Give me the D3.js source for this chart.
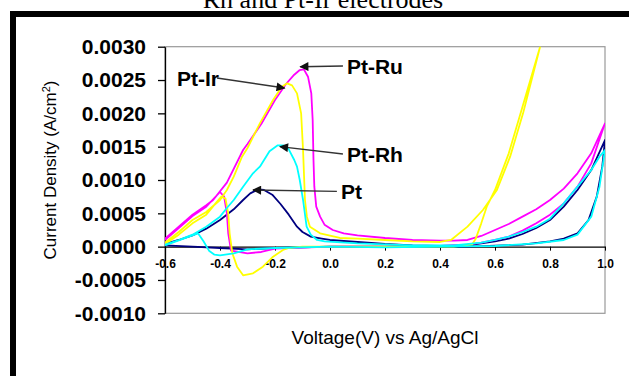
<!DOCTYPE html>
<html>
<head>
<meta charset="utf-8">
<script src="https://cdn.jsdelivr.net/npm/d3@7"></script>
<style>
  html, body { margin: 0; padding: 0; background: #fff; }
  svg { display: block; }
</style>
</head>
<body>
<svg id="chart" width="629" height="376"></svg>
<script>
// cyclic voltammograms, each loop = forward scan then reverse scan
const ptVoltage = [-0.6, -0.55, -0.5, -0.45, -0.4, -0.35, -0.316, -0.29, -0.26, -0.24, -0.21, -0.18, -0.15, -0.12, -0.1, -0.07, -0.03, 0.0, 0.1, 0.2, 0.3, 0.4, 0.5, 0.55, 0.6, 0.65, 0.7, 0.75, 0.8, 0.85, 0.9, 0.95, 1.0,
  0.99, 0.97, 0.94, 0.9, 0.85, 0.8, 0.7, 0.5, 0.2, 0.0, -0.2, -0.3, -0.4, -0.5, -0.6];
const ptCurrent = [0.00004, 0.0001, 0.00017, 0.00027, 0.0004, 0.00056, 0.0007, 0.0008, 0.00086, 0.00085, 0.00078, 0.00064, 0.00048, 0.0003, 0.00022, 0.00015, 0.00012, 0.0001, 0.00007, 0.00004, 0.00002, 0.00001, 0.00002, 0.00005, 0.00008, 0.00012, 0.00019, 0.00028, 0.0004, 0.0006, 0.00085, 0.00115, 0.0016,
  0.0012, 0.00075, 0.0004, 0.0002, 0.00012, 0.00008, 0.00003, 0.0, 0.0, 0.0, -0.00002, -0.00004, -0.00002, 0.0, 0.00002];

const ptRuVoltage = [-0.6, -0.55, -0.5, -0.45, -0.425, -0.375, -0.316, -0.3, -0.25, -0.2, -0.16, -0.13, -0.11, -0.095, -0.08, -0.068, -0.063, -0.06, -0.057, -0.05, -0.036, -0.02, 0.01, 0.05, 0.1, 0.2, 0.3, 0.4, 0.45, 0.5, 0.55, 0.6, 0.65, 0.7, 0.75, 0.8, 0.85, 0.9, 0.95, 1.0,
  0.95, 0.9, 0.85, 0.8, 0.75, 0.7, 0.65, 0.6, 0.55, 0.5, 0.4, 0.2, 0.0, -0.2, -0.25, -0.3, -0.36, -0.37, -0.375, -0.385, -0.4, -0.45, -0.5, -0.55, -0.6];
const ptRuCurrent = [0.00012, 0.0003, 0.00048, 0.00062, 0.0007, 0.00096, 0.00145, 0.00154, 0.00184, 0.0022, 0.00244, 0.00258, 0.00265, 0.00266, 0.00255, 0.0023, 0.0019, 0.0013, 0.0009, 0.0006, 0.00045, 0.00033, 0.00025, 0.0002, 0.00017, 0.00013, 0.0001, 0.00009, 0.00009, 0.0001, 0.00016, 0.00025, 0.00034, 0.00045, 0.00056, 0.0007, 0.00087, 0.0011, 0.0014, 0.00185,
  0.00125, 0.0009, 0.00065, 0.00048, 0.00035, 0.00024, 0.00015, 0.0001, 0.00006, 0.00003, 0.00001, 0.0, 0.0, -0.00003, -0.00008, -0.0001, -0.00006, 0.0002, 0.0005, 0.00075, 0.00082, 0.0006, 0.00046, 0.00028, 0.0001];

const ptIrVoltage = [-0.6, -0.55, -0.5, -0.45, -0.4, -0.375, -0.35, -0.32, -0.3, -0.255, -0.207, -0.175, -0.156, -0.138, -0.12, -0.105, -0.098, -0.091, -0.084, -0.073, -0.036, 0.036, 0.1, 0.2, 0.3, 0.4, 0.44, 0.5, 0.556, 0.607, 0.655, 0.702, 0.764, 0.8,
  0.764, 0.7, 0.65, 0.6, 0.57, 0.55, 0.53, 0.516, 0.45, 0.3, 0.1, -0.1, -0.15, -0.171, -0.207, -0.244, -0.28, -0.316, -0.338, -0.355, -0.365, -0.37, -0.38, -0.395, -0.41, -0.45, -0.5, -0.55, -0.6];
const ptIrCurrent = [0.00006, 0.00022, 0.0004, 0.00052, 0.0007, 0.00085, 0.00105, 0.00135, 0.00148, 0.00185, 0.0022, 0.0024, 0.00245, 0.00242, 0.0023, 0.002, 0.00145, 0.0007, 0.00045, 0.0003, 0.0002, 0.00013, 0.00012, 0.0001, 0.00008, 0.00007, 0.0001, 0.0003, 0.00055, 0.00085, 0.00135, 0.002, 0.003, 0.0036,
  0.003, 0.0021, 0.0014, 0.00085, 0.0006, 0.00035, 0.00012, 0.00003, 0.0, 0.0, 0.0, 0.0, -0.00002, -0.00005, -0.00015, -0.0003, -0.0004, -0.00043, -0.0003, -0.0001, 0.0002, 0.0005, 0.00072, 0.00075, 0.00068, 0.00048, 0.00035, 0.00018, 0.00004];

const ptRhVoltage = [-0.6, -0.55, -0.5, -0.45, -0.4, -0.375, -0.35, -0.316, -0.28, -0.255, -0.22, -0.19, -0.17, -0.15, -0.13, -0.12, -0.11, -0.098, -0.085, -0.07, -0.047, -0.02, 0.1, 0.3, 0.45, 0.55, 0.6, 0.65, 0.7, 0.75, 0.8, 0.85, 0.9, 0.95, 0.98, 1.0,
  0.98, 0.95, 0.9, 0.85, 0.75, 0.6, 0.4, 0.2, 0.0, -0.2, -0.3, -0.35, -0.4, -0.42, -0.44, -0.46, -0.48, -0.52, -0.56, -0.6];
const ptRhCurrent = [0.00003, 0.0001, 0.00018, 0.0003, 0.00045, 0.00058, 0.0007, 0.0009, 0.0011, 0.0012, 0.00143, 0.00152, 0.00152, 0.00146, 0.0013, 0.0012, 0.001, 0.0007, 0.0003, 0.00018, 0.0001, 0.00008, 0.00005, 0.00002, 0.00002, 0.00006, 0.0001, 0.00015, 0.00022, 0.0003, 0.00042, 0.00065, 0.0009, 0.00115, 0.00135, 0.00145,
  0.0009, 0.00045, 0.00018, 0.0001, 0.00005, 0.00001, 0.0, -0.00001, 0.0, -0.00002, -0.00004, -0.0001, -0.00013, -0.00012, -0.00006, 0.00008, 0.0002, 0.00014, 0.00008, 0.00002];

const seriesNames = ["Pt", "Pt-Ru", "Pt-Ir", "Pt-Rh"];
const seriesColors = ["#000080", "#ff00ff", "#ffff00", "#00ffff"];
const seriesVoltage = [ptVoltage, ptRuVoltage, ptIrVoltage, ptRhVoltage];
const seriesCurrent = [ptCurrent, ptRuCurrent, ptIrCurrent, ptRhCurrent];

const xTicks = [-0.6, -0.4, -0.2, 0.0, 0.2, 0.4, 0.6, 0.8, 1.0];
const yTicks = [-0.001, -0.0005, 0, 0.0005, 0.001, 0.0015, 0.002, 0.0025, 0.003];

// annotation arrows: label, arrow tip (V, A/cm2), arrow tail (V, A/cm2)
const noteLabels = ["Pt-Ru", "Pt-Ir", "Pt-Rh", "Pt"];
const noteTip = [[-0.108, 0.0027], [-0.165, 0.00238], [-0.182, 0.0015], [-0.28, 0.00085]];
const noteTail = [[0.047, 0.00271], [-0.411, 0.00253], [0.047, 0.00139], [0.025, 0.00083]];

const svg = d3.select("#chart");
const margin = { left: 165, right: 24, top: 46.7, bottom: 62.7 };
const W = 629, H = 376;

const x = d3.scaleLinear().domain([-0.6, 1.0]).range([margin.left, W - margin.right]);
const y = d3.scaleLinear().domain([-0.001, 0.003]).range([H - margin.bottom, margin.top]);

svg.append("rect").attr("width", W).attr("height", H).attr("fill", "#fff");

// title line (partly cut off at the top, as in the source figure)
svg.append("text")
  .attr("x", 323).attr("y", 8)
  .attr("text-anchor", "middle")
  .attr("font-family", "'Liberation Serif', 'Times New Roman', serif")
  .attr("font-size", 26)
  .text("Rh and Pt-Ir electrodes");

// outer black frame
svg.append("rect")
  .attr("x", 13).attr("y", 14).attr("width", 700).attr("height", 500)
  .attr("fill", "none").attr("stroke", "#000").attr("stroke-width", 6);

// plot area border
svg.append("rect")
  .attr("x", x(-0.6)).attr("y", y(0.003))
  .attr("width", x(1.0) - x(-0.6)).attr("height", y(-0.001) - y(0.003))
  .attr("fill", "none").attr("stroke", "#999").attr("stroke-width", 1.2);

svg.append("clipPath").attr("id", "plotClip")
  .append("rect")
  .attr("x", x(-0.6)).attr("y", y(0.003))
  .attr("width", x(1.0) - x(-0.6)).attr("height", y(-0.001) - y(0.003));

// y axis
const yAxis = svg.append("g")
  .attr("transform", `translate(${x(-0.6)},0)`)
  .call(d3.axisLeft(y).tickValues(yTicks).tickSize(7).tickSizeOuter(0).tickPadding(12)
    .tickFormat(d => d.toFixed(4)));
yAxis.selectAll("text")
  .attr("font-family", "'Liberation Sans', Arial, sans-serif")
  .attr("font-size", 21).attr("font-weight", "bold").attr("fill", "#000");
yAxis.select(".domain").attr("stroke", "#000").attr("stroke-width", 1.3);
yAxis.selectAll(".tick line").attr("stroke", "#000").attr("stroke-width", 1.3);

// x axis along zero current
const xAxis = svg.append("g")
  .attr("transform", `translate(0,${y(0)})`)
  .call(d3.axisBottom(x).tickValues(xTicks).tickSize(4).tickSizeOuter(0).tickPadding(9)
    .tickFormat(d => d.toFixed(1)));
xAxis.selectAll("text")
  .attr("font-family", "'Liberation Sans', Arial, sans-serif")
  .attr("font-size", 12).attr("font-weight", "bold").attr("fill", "#000");
xAxis.select(".domain").attr("stroke", "#000").attr("stroke-width", 1.3);
xAxis.selectAll(".tick line").attr("stroke", "#000");

// curves
const line = d3.line().x(d => x(d[0])).y(d => y(d[1]));
const curves = svg.append("g").attr("clip-path", "url(#plotClip)");
seriesNames.forEach((name, i) => {
  const pts = seriesVoltage[i].map((v, k) => [v, seriesCurrent[i][k]]);
  curves.append("path")
    .datum(pts)
    .attr("class", "cv " + name)
    .attr("d", line)
    .attr("fill", "none")
    .attr("stroke", seriesColors[i])
    .attr("stroke-width", 1.8)
    .attr("stroke-linejoin", "round");
});

// arrows + labels
svg.append("defs").append("marker")
  .attr("id", "arrowHead")
  .attr("viewBox", "0 0 10 10")
  .attr("refX", 9).attr("refY", 5)
  .attr("markerWidth", 12).attr("markerHeight", 9)
  .attr("markerUnits", "userSpaceOnUse")
  .attr("orient", "auto")
  .append("path").attr("d", "M0,0 L10,5 L0,10 z").attr("fill", "#111");

noteLabels.forEach((label, i) => {
  svg.append("line")
    .attr("x1", x(noteTail[i][0])).attr("y1", y(noteTail[i][1]))
    .attr("x2", x(noteTip[i][0])).attr("y2", y(noteTip[i][1]))
    .attr("stroke", "#333").attr("stroke-width", 1.4)
    .attr("marker-end", "url(#arrowHead)");
  const leftSide = noteTail[i][0] < noteTip[i][0];
  svg.append("text")
    .attr("x", x(noteTail[i][0]) + (leftSide ? 2 : 4))
    .attr("y", y(noteTail[i][1]))
    .attr("dy", "0.36em")
    .attr("text-anchor", leftSide ? "end" : "start")
    .attr("font-family", "'Liberation Sans', Arial, sans-serif")
    .attr("font-size", 21).attr("font-weight", "bold")
    .text(label);
});

// axis titles
const yTitle = svg.append("text")
  .attr("transform", "translate(56,170) rotate(-90)")
  .attr("text-anchor", "middle")
  .attr("font-family", "'Liberation Sans', Arial, sans-serif")
  .attr("font-size", 17);
yTitle.append("tspan").text("Current Density (A/cm");
yTitle.append("tspan").attr("baseline-shift", "super").attr("font-size", 11).text("2");
yTitle.append("tspan").text(")");

svg.append("text")
  .attr("x", (x(-0.6) + x(1.0)) / 2).attr("y", 344)
  .attr("text-anchor", "middle")
  .attr("font-family", "'Liberation Sans', Arial, sans-serif")
  .attr("font-size", 19)
  .text("Voltage(V) vs Ag/AgCl");
</script>
</body>
</html>
